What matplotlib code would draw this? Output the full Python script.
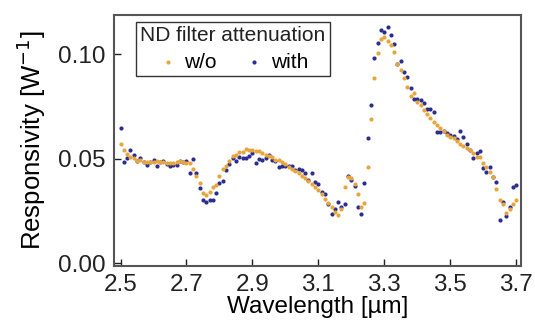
import numpy as np
import matplotlib.pyplot as plt

plt.rcParams['font.family'] = ['Liberation Sans', 'DejaVu Sans']

# wavelength grid [um], sampled every 0.01 um
wavelength = np.round(np.arange(2.50, 3.705, 0.01), 2)

# responsivity without ND filter
resp_wo = [
    0.0570, 0.0541, 0.0522, 0.0509, 0.0501, 0.0491, 0.0495, 0.0486, 0.0483, 0.0484,
    0.0486, 0.0489, 0.0484, 0.0483, 0.0481, 0.0481, 0.0479, 0.0484, 0.0488, 0.0484,
    0.0481, 0.0477, 0.0452, 0.0419, 0.0382, 0.0334, 0.0325, 0.0339, 0.0363, 0.0372,
    0.0417, 0.0451, 0.0466, 0.0487, 0.0513, 0.0517, 0.0533, 0.0530, 0.0545, 0.0541,
    0.0540, 0.0537, 0.0536, 0.0525, 0.0519, 0.0513, 0.0506, 0.0495, 0.0494, 0.0483,
    0.0473, 0.0462, 0.0452, 0.0440, 0.0430, 0.0417, 0.0408, 0.0392, 0.0379, 0.0366,
    0.0350, 0.0331, 0.0306, 0.0288, 0.0268, 0.0247, 0.0231, 0.0260, 0.0365, 0.0414,
    0.0408, 0.0379, 0.0331, 0.0271, 0.0288, 0.0460, 0.0688, 0.0887, 0.1006, 0.1070,
    0.1083, 0.1064, 0.1042, 0.1008, 0.0951, 0.0924, 0.0887, 0.0844, 0.0801, 0.0812,
    0.0769, 0.0758, 0.0732, 0.0715, 0.0693, 0.0675, 0.0661, 0.0648, 0.0632, 0.0611,
    0.0605, 0.0599, 0.0586, 0.0570, 0.0559, 0.0553, 0.0540, 0.0526, 0.0508, 0.0508,
    0.0481, 0.0460, 0.0436, 0.0412, 0.0355, 0.0301, 0.0285, 0.0240, 0.0259, 0.0285,
    0.0304,
]

# responsivity with ND filter
resp_with = [
    0.0645, 0.0483, 0.0504, 0.0543, 0.0517, 0.0489, 0.0505, 0.0484, 0.0470, 0.0482,
    0.0493, 0.0466, 0.0483, 0.0487, 0.0476, 0.0465, 0.0470, 0.0470, 0.0487, 0.0484,
    0.0487, 0.0433, 0.0497, 0.0433, 0.0360, 0.0302, 0.0294, 0.0304, 0.0304, 0.0334,
    0.0382, 0.0393, 0.0444, 0.0476, 0.0503, 0.0490, 0.0506, 0.0502, 0.0503, 0.0513,
    0.0525, 0.0480, 0.0497, 0.0494, 0.0505, 0.0519, 0.0492, 0.0489, 0.0459, 0.0464,
    0.0466, 0.0465, 0.0463, 0.0448, 0.0452, 0.0445, 0.0430, 0.0400, 0.0430, 0.0390,
    0.0379, 0.0341, 0.0331, 0.0283, 0.0237, 0.0261, 0.0293, 0.0270, 0.0283, 0.0416,
    0.0398, 0.0370, 0.0267, 0.0237, 0.0385, 0.0597, 0.0758, 0.0981, 0.1053, 0.1113,
    0.1105, 0.1129, 0.1092, 0.1048, 0.0951, 0.0967, 0.0916, 0.0892, 0.0838, 0.0784,
    0.0786, 0.0781, 0.0764, 0.0739, 0.0735, 0.0723, 0.0627, 0.0627, 0.0632, 0.0623,
    0.0612, 0.0608, 0.0592, 0.0634, 0.0603, 0.0572, 0.0543, 0.0503, 0.0527, 0.0537,
    0.0455, 0.0436, 0.0460, 0.0412, 0.0387, 0.0205, 0.0293, 0.0225, 0.0269, 0.0365,
    0.0373,
]

xticks = [2.5, 2.7, 2.9, 3.1, 3.3, 3.5, 3.7]
yticks = [0.00, 0.05, 0.10]

fig = plt.figure(figsize=(5.35, 3.35), dpi=100)
ax = fig.add_axes([0.213, 0.207, 0.761, 0.748])

ax.scatter(wavelength, resp_with, s=9, color='#2b2e8f', lw=0, label='with', zorder=2)
ax.scatter(wavelength, resp_wo, s=9, color='#e8a53c', lw=0, label='w/o', zorder=3)

ax.set_xlim(2.48, 3.715)
ax.set_ylim(-0.0011, 0.1186)
ax.set_xticks(xticks)
ax.set_xticklabels([f'{t:.1f}' for t in xticks])
ax.set_yticks(yticks)
ax.set_yticklabels([f'{t:.2f}' for t in yticks])

ax.tick_params(direction='in', length=5, width=1, labelsize=17.5, pad=6, colors='#222222')
for sp in ax.spines.values():
    sp.set_color('#555555')
    sp.set_linewidth(1.5)

ax.set_xlabel('Wavelength [µm]', fontsize=17.5, labelpad=0)
ax.set_ylabel('Responsivity [W$^{-1}$]', fontsize=18.5, labelpad=7)

h, l = ax.get_legend_handles_labels()
leg = ax.legend(h[::-1], l[::-1], title='ND filter attenuation', ncol=2,
                loc='upper left', bbox_to_anchor=(0.054, 0.972), borderaxespad=0,
                fontsize=15, title_fontsize=15, frameon=True, fancybox=False,
                edgecolor='black', handletextpad=0.3, columnspacing=1.3,
                borderpad=0.2, labelspacing=0.35, handlelength=1.0, markerscale=1.0)
leg.get_frame().set_linewidth(1.0)
leg.get_title().set_color('#222222')

fig.savefig('out.png', dpi=100)
